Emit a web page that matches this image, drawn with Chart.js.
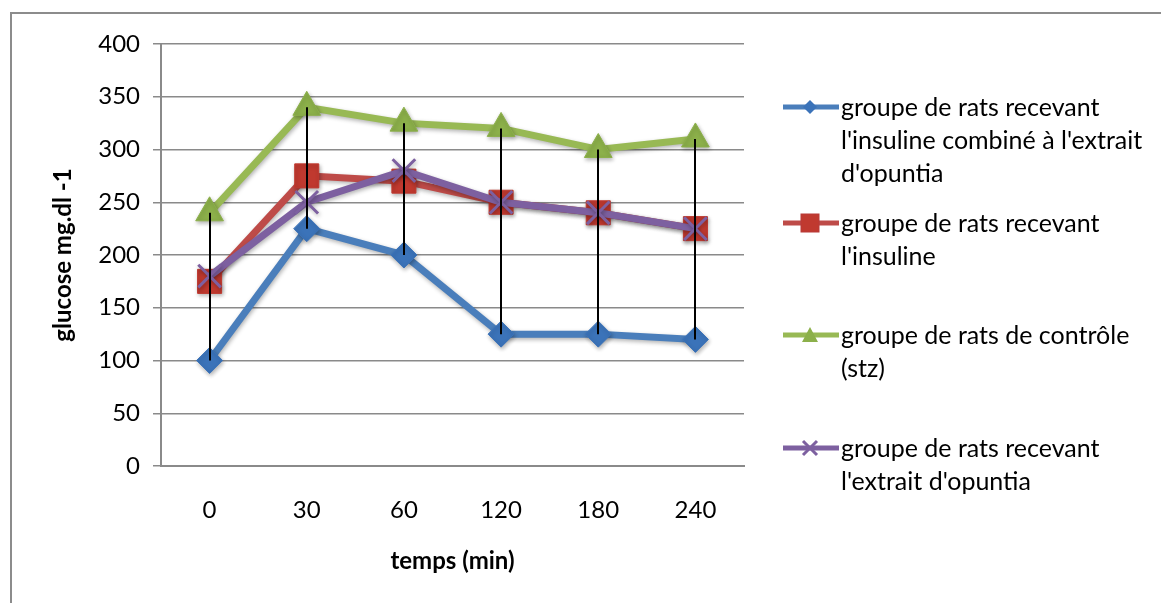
<!DOCTYPE html>
<html>
<head>
<meta charset="utf-8">
<script src="https://cdn.jsdelivr.net/npm/chart.js@4/dist/chart.umd.min.js"></script>
<style>
  html, body { margin: 0; padding: 0; background: #fff; }
  #wrap { position: relative; width: 1161px; height: 603px; overflow: hidden; }
  #frame { position: absolute; left: 10px; top: 12px; right: -10px; bottom: -10px;
           border-top: 2px solid #8c8c8c; border-left: 2px solid #8c8c8c; }
  #myChart { position: absolute; left: 0; top: 0; }
  #legend { position: absolute; left: 783px; top: 0; font-family: Lato, sans-serif; font-size: 25px; color: #000; }
  .item { position: absolute; left: 0; display: flex; align-items: flex-start; width: 380px; }
  .item svg { flex: none; margin-right: 2px; }
  .item div { line-height: 33px; white-space: nowrap; }
</style>
</head>
<body>
<div id="wrap">
  <div id="frame"></div>
  <canvas id="myChart" width="1161" height="603"></canvas>
  <div id="legend"></div>
</div>
<script>
  // time points (min)
  var categories = ["0", "30", "60", "120", "180", "240"];

  // glucose values
  var insulinExtract = [100, 225, 200, 125, 125, 120];
  var insulin = [175, 275, 270, 250, 240, 225];
  var controlStz = [240, 340, 325, 320, 300, 310];
  var extract = [180, 250, 280, 250, 240, 225];

  var seriesNames = [
    ["groupe de rats recevant", "l'insuline combiné à l'extrait", "d'opuntia"],
    ["groupe de rats recevant", "l'insuline"],
    ["groupe de rats de contrôle", "(stz)"],
    ["groupe de rats recevant", "l'extrait d'opuntia"]
  ];
  var lineColors = ["#4a7ebb", "#be4b48", "#98b954", "#7d60a0"];
  var markerColors = ["#3b73b9", "#c0392f", "#8cb04a", "#7d60a0"];

  var yAxisTitle = "glucose mg.dl -1";
  var xAxisTitle = "temps (min)";

  // black high-low lines between the lowest and highest series at each time
  var hiLoLines = {
    id: "hiLoLines",
    beforeDatasetsDraw: chart => {
      var ctx = chart.ctx;
      ctx.save();
      ctx.shadowColor = "rgba(0,0,0,0.3)";
      ctx.shadowBlur = 4;
      ctx.shadowOffsetX = 1;
      ctx.shadowOffsetY = 2;
    },
    afterDatasetsDraw: chart => {
      var ctx = chart.ctx;
      ctx.restore();
      var xs = chart.scales.x, ys = chart.scales.y;
      ctx.save();
      ctx.strokeStyle = "#000";
      ctx.lineWidth = 2;
      categories.forEach((c, i) => {
        var vals = chart.data.datasets.map(d => d.data[i]);
        var px = Math.round(xs.getPixelForValue(i));
        ctx.beginPath();
        ctx.moveTo(px, ys.getPixelForValue(Math.max.apply(null, vals)));
        ctx.lineTo(px, ys.getPixelForValue(Math.min.apply(null, vals)));
        ctx.stroke();
      });
      ctx.restore();
    }
  };

  var mkSet = (idx, data, style, radius, order) => ({
    label: seriesNames[idx].join(" "),
    data: data,
    borderColor: lineColors[idx],
    backgroundColor: markerColors[idx],
    borderWidth: 7,
    pointStyle: style,
    pointRadius: radius,
    pointBorderColor: style == "crossRot" ? lineColors[idx] : markerColors[idx],
    pointBorderWidth: style == "crossRot" ? 3 : 1,
    tension: 0,
    order: order
  });

  var tickFont = { family: "Lato", size: 24 };
  var titleFont = { family: "Lato", size: 24, weight: "bold" };

  var chart = new Chart("myChart", {
    type: "line",
    data: {
      labels: categories,
      datasets: [
        mkSet(0, insulinExtract, "rectRot", 13, 4),
        mkSet(1, insulin, "rect", 17, 3),
        mkSet(2, controlStz, "triangle", 16, 2),
        mkSet(3, extract, "crossRot", 16, 1)
      ]
    },
    options: {
      responsive: false,
      animation: false,
      layout: { padding: { left: 12, top: 44, right: 417, bottom: 10 } },
      plugins: {
        legend: { display: false },
        tooltip: { enabled: false }
      },
      scales: {
        x: {
          offset: true,
          grid: { display: false, drawTicks: false },
          border: { display: true, color: "#8a8a8a", width: 2 },
          ticks: { color: "#000", font: tickFont, padding: 30 },
          title: { display: true, text: xAxisTitle, color: "#000", font: titleFont, padding: { top: 0, bottom: 17 } },
          afterFit: s => { s.height = 127; }
        },
        y: {
          min: 0,
          max: 400,
          ticks: { stepSize: 50, color: "#000", font: tickFont, padding: 13 },
          grid: { color: "#8a8a8a", lineWidth: 1.5, tickLength: 8 },
          border: { display: true, color: "#8a8a8a", width: 2 },
          title: { display: true, text: yAxisTitle, color: "#000", font: titleFont, padding: { top: 37, bottom: 0 } },
          afterFit: s => { s.width = 149; }
        }
      }
    },
    plugins: [hiLoLines]
  });

  // legend drawn as html, markers as small svg
  var markerSvg = (i) => {
    var c = markerColors[i], l = lineColors[i];
    var m = "";
    if (i == 0) m = '<polygon points="27,10 34,17 27,24 20,17" fill="' + c + '"/>';
    if (i == 1) m = '<rect x="18" y="8" width="18" height="18" fill="' + c + '" stroke="#b83b38"/>';
    if (i == 2) m = '<polygon points="27,9 35,24 19,24" fill="' + c + '"/>';
    if (i == 3) m = '<path d="M20,10 L34,24 M34,10 L20,24" stroke="' + c + '" stroke-width="3"/>';
    return '<svg width="56" height="33"><line x1="0" y1="17" x2="56" y2="17" stroke="' + l + '" stroke-width="5"/>' + m + '</svg>';
  };

  var legendTops = [90, 206, 318, 431];
  var legend = document.getElementById("legend");
  seriesNames.forEach((name, i) => {
    var item = document.createElement("div");
    item.className = "item";
    item.style.top = legendTops[i] + "px";
    item.innerHTML = markerSvg(i) + "<div>" + name.join("<br>") + "</div>";
    legend.appendChild(item);
  });
</script>
</body>
</html>
